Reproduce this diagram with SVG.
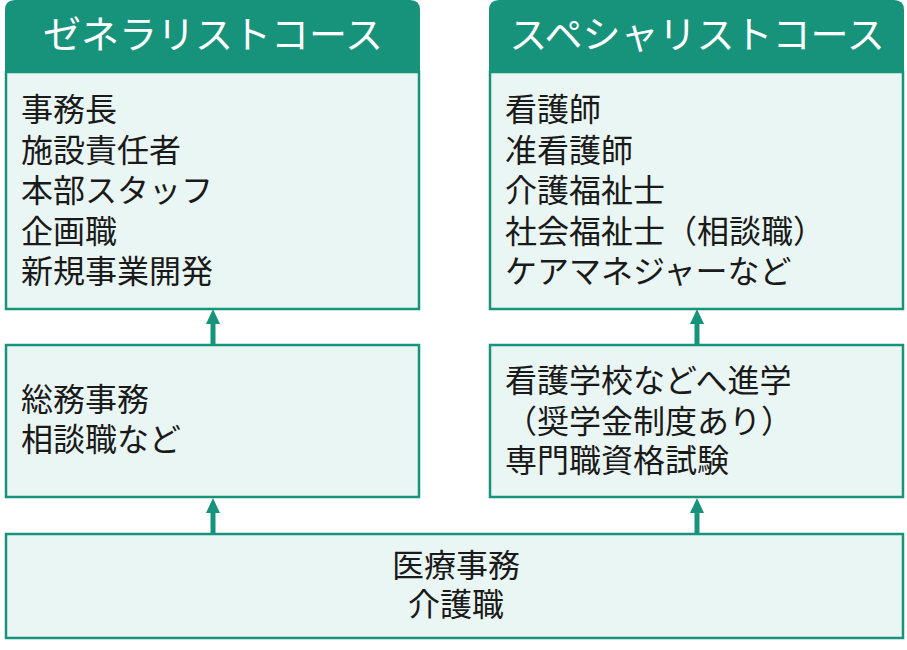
<svg xmlns="http://www.w3.org/2000/svg" width="907" height="650" viewBox="0 0 907 650">
<defs>
<style>
.box{fill:#eaf6f3;stroke:#17937b;stroke-width:2.5}
.hdr{fill:#17937b}
.ht{font-family:"Noto Sans CJK JP","Noto Sans",sans-serif;font-size:38px;fill:#ffffff;text-anchor:middle}
.t{font-family:"Noto Sans CJK JP","Noto Sans",sans-serif;font-size:32px;fill:#1a1a1a}
.c{text-anchor:middle}
.arr{stroke:#17937b;stroke-width:5;fill:none}
.ah{fill:#17937b}
</style>
</defs>
<rect width="907" height="650" fill="#ffffff"/>
<g id="generalist">
<path class="box" d="M6,72 H419 V309 H6 Z"/>
<path class="hdr" d="M5,72 V10 Q5,0 15,0 H410 Q420,0 420,10 V72 Z"/>
<text class="ht" x="213" y="48">ゼネラリストコース</text>
<text class="t"><tspan x="21" y="121">事務長</tspan><tspan x="21" y="161.5">施設責任者</tspan><tspan x="21" y="202">本部スタッフ</tspan><tspan x="21" y="242.5">企画職</tspan><tspan x="21" y="283">新規事業開発</tspan></text>
</g>
<g id="specialist">
<path class="box" d="M490,72 H903 V309 H490 Z"/>
<path class="hdr" d="M489,72 V10 Q489,0 499,0 H894 Q904,0 904,10 V72 Z"/>
<text class="ht" x="697" y="48">スペシャリストコース</text>
<text class="t"><tspan x="505" y="121">看護師</tspan><tspan x="505" y="161.5">准看護師</tspan><tspan x="505" y="202">介護福祉士</tspan><tspan x="505" y="242.5">社会福祉士（相談職）</tspan><tspan x="505" y="283">ケアマネジャーなど</tspan></text>
</g>
<g id="general-mid">
<rect class="box" x="6" y="345" width="413" height="152"/>
<text class="t"><tspan x="21" y="411">総務事務</tspan><tspan x="21" y="451">相談職など</tspan></text>
</g>
<g id="special-mid">
<rect class="box" x="490" y="345" width="413" height="152"/>
<text class="t"><tspan x="505" y="392">看護学校などへ進学</tspan><tspan x="505" y="432.5">（奨学金制度あり）</tspan><tspan x="505" y="472">専門職資格試験</tspan></text>
</g>
<g id="entry">
<rect class="box" x="6" y="534" width="897" height="104"/>
<text class="t c"><tspan x="456" y="577">医療事務</tspan><tspan x="456" y="616">介護職</tspan></text>
</g>
<g id="connectors">
<line class="arr" x1="213" y1="344" x2="213" y2="320"/>
<polygon class="ah" points="213,309 206,324 220,324"/>
<line class="arr" x1="697" y1="344" x2="697" y2="320"/>
<polygon class="ah" points="697,309 690,324 704,324"/>
<line class="arr" x1="213" y1="533" x2="213" y2="509"/>
<polygon class="ah" points="213,498 206,513 220,513"/>
<line class="arr" x1="697" y1="533" x2="697" y2="509"/>
<polygon class="ah" points="697,498 690,513 704,513"/>
</g>
</svg>
